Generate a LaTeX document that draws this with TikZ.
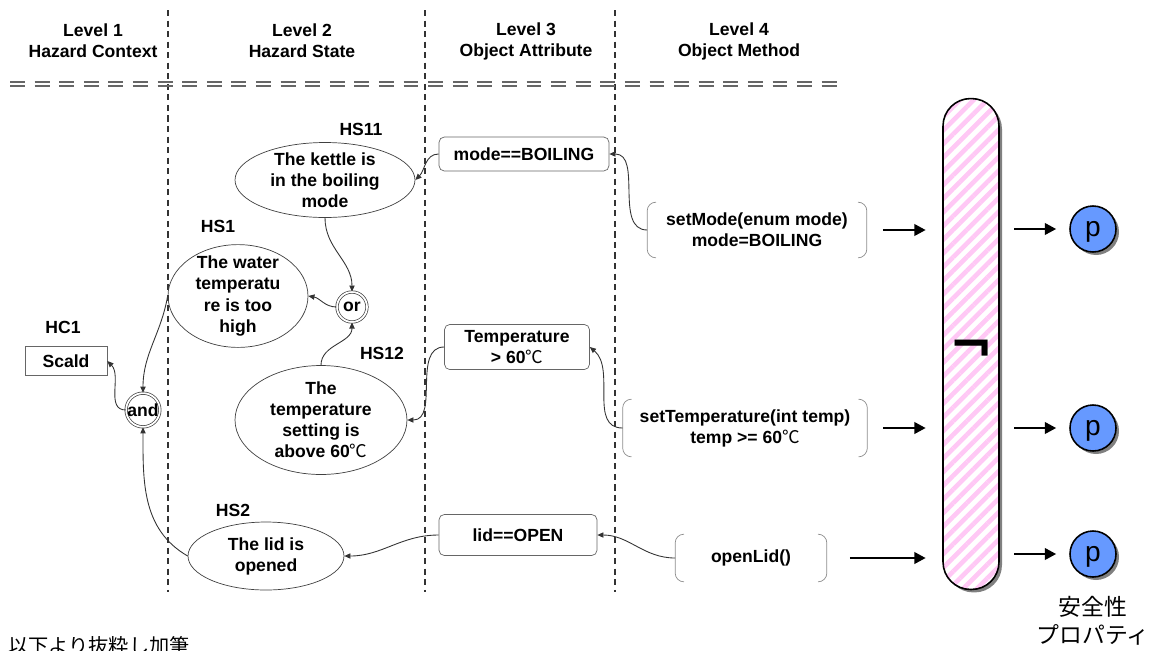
\documentclass[tikz,border=0pt]{standalone}
\usepackage{fontspec}
\setmainfont{Liberation Sans}
\newfontfamily\cjk{Noto Sans CJK JP}
\newfontfamily\symfont{DejaVu Sans}
\usetikzlibrary{shapes.geometric,arrows.meta,shadows,patterns.meta}

\definecolor{propblue}{RGB}{102,153,255}
\definecolor{stripe}{RGB}{255,200,245}
\newcommand{\tempunit}{{\cjk\mdseries ℃}}

\tikzset{
  every node/.style={font=\bfseries\fontsize{10}{12}\selectfont},
  hstate/.style={ellipse, draw=black!75, align=center, inner xsep=0pt, inner ysep=-2pt},
  gate/.style={circle, draw=black!75, double, double distance=1pt, inner sep=0pt, minimum size=0.6cm},
  attr/.style={draw=black!60, rounded corners=3pt, align=center},
  method/.style={align=center},
  bracket/.style={draw=black!45, rounded corners=5pt},
  link/.style={black!80, line width=0.5pt, -{Triangle[length=3.5pt,width=3pt]}},
  feed/.style={line width=1.5pt, -{Triangle[length=6.5pt,width=6.5pt]}},
  divider/.style={black!80, line width=0.7pt, dash pattern=on 3.5pt off 2.5pt},
  rule/.style={black!60, line width=0.6pt, dash pattern=on 8.5pt off 5.5pt},
  formula/.style={draw, line width=0.9pt, minimum width=1.12cm, minimum height=9.82cm,
    rounded corners=0.55cm,
    drop shadow={shadow xshift=0.06cm, shadow yshift=-0.06cm, fill=black!50, opacity=1},
    preaction={fill=white},
    pattern={Lines[angle=45,distance=5.5pt,line width=2.6pt]}, pattern color=stripe},
  prop/.style={circle, draw, fill=propblue, line width=0.9pt, minimum size=0.92cm, inner sep=0pt,
    text depth=0pt, font=\fontsize{16}{16}\selectfont,
    drop shadow={shadow xshift=0.06cm, shadow yshift=-0.06cm, fill=black!50, opacity=1}},
}

\begin{document}
\begin{tikzpicture}[x=0.02cm, y=0.02cm]
\useasboundingbox (0,0) rectangle (1153,-650);

% column headers and separators
\node[align=center] (lv1) at (93,-41) {Level 1\\Hazard Context};
\node[align=center] (lv2) at (302,-41) {Level 2\\Hazard State};
\node[align=center] (lv3) at (526,-41) {Level 3\\Object Attribute};
\node[align=center] (lv4) at (739,-41) {Level 4\\Object Method};
\foreach \x in {168,425,615}
  \draw[divider] (\x,-10) -- (\x,-592);
\foreach \y in {-82,-86}
  \draw[rule] (10,\y) -- (845,\y);

% level 1
\node (lhc1) at (63,-327) {HC1};
\node[draw=black!60, minimum width=1.64cm, minimum height=0.58cm] (scald) at (66,-361) {Scald};
\node[gate] (and) at (143,-410) {and};

% level 2
\node (lhs11) at (361,-129) {HS11};
\node[hstate, minimum width=3.6cm, minimum height=1.5cm] (hs11) at (325,-180) {The kettle is\\in the boiling\\mode};
\node (lhs1) at (218,-226) {HS1};
\node[hstate, minimum width=2.8cm, minimum height=2.04cm] (hs1) at (238,-296) {The water\\temperatu\\re is too\\high};
\node[gate] (or) at (352,-307) {or};
\node (lhs12) at (382,-353) {HS12};
\node[hstate, minimum width=3.44cm, minimum height=2.18cm] (hs12) at (321,-420) {The\\temperature\\setting is\\above 60\tempunit};
\node (lhs2) at (233,-510) {HS2};
\node[hstate, minimum width=3.12cm, minimum height=1.36cm] (hs2) at (266,-556) {The lid is\\opened};

% level 3
\node[attr, minimum width=3.4cm, minimum height=0.68cm] (boil) at (524,-154) {mode==BOILING};
\node[attr, minimum width=2.9cm, minimum height=0.84cm] (temp) at (517,-347) {Temperature\\> 60\tempunit};
\node[attr, minimum width=3.16cm, minimum height=0.82cm] (lid) at (518,-535) {lid==OPEN};

% level 4
\node[method, minimum width=4.38cm, minimum height=1.1cm] (setmode) at (757,-230) {setMode(enum mode)\\mode=BOILING};
\node[method, minimum width=4.88cm, minimum height=1.14cm] (settemp) at (745,-428) {setTemperature(int temp)\\temp >= 60\tempunit};
\node[method, minimum width=3.02cm, minimum height=0.94cm] (openlid) at (751,-558) {openLid()};
\foreach \m in {setmode,settemp,openlid}{
  \draw[bracket] ([xshift=0.16cm]\m.north west) -- (\m.north west) -- (\m.south west) -- ([xshift=0.16cm]\m.south west);
  \draw[bracket] ([xshift=-0.16cm]\m.north east) -- (\m.north east) -- (\m.south east) -- ([xshift=-0.16cm]\m.south east);
}

% hazard tree links
\draw[link] (boil.west) to[out=180,in=45] (hs11.east);
\draw[link] (setmode.west) to[out=180,in=0] (boil.east);
\draw[link] (hs11.south) to[out=-90,in=90] (or.north);
\draw[link] (hs12.north) to[out=90,in=-90] (or.south);
\draw[link] (or.west) to[out=180,in=-10] (hs1.east);
\draw[link] (temp.west) to[out=180,in=0] (hs12.east);
\draw[link] (settemp.west) to[out=180,in=-40] (temp.east);
\draw[link] (hs1.west) to[out=-100,in=90] (and.north);
\draw[link] (hs2.west) to[out=150,in=-90] (and.south);
\draw[link] (and.west) to[out=180,in=-45] (scald.east);
\draw[link] (lid.west) to[out=180,in=0] (hs2.east);
\draw[link] (openlid.west) to[out=180,in=0] (lid.east);

% monitor bar and properties
\node[formula] (ltl) at (971,-344) {};
\node[font=\symfont\bfseries\fontsize{30}{30}\selectfont, inner sep=0pt] (neg) at (972,-352) {¬};
\foreach \n/\y in {p1/-229,p2/-428,p3/-554}
  \node[prop] (\n) at (1093,\y) {p};
\draw[feed, shorten <=0.32cm, shorten >=0.3cm] (setmode.east) -- (ltl.west |- setmode.east);
\draw[feed, shorten <=0.32cm, shorten >=0.3cm] (settemp.east) -- (ltl.west |- settemp.east);
\draw[feed, shorten <=0.46cm, shorten >=0.3cm] (openlid.east) -- (ltl.west |- openlid.east);
\foreach \n in {p1,p2,p3}
  \draw[feed, shorten <=0.26cm, shorten >=0.26cm] (ltl.east |- \n) -- (\n.west);
\node[align=center, font=\cjk\fontsize{13}{16}\selectfont] (safety) at (1093,-621) {安全性\\プロパティ};

\node[anchor=north west, inner sep=0pt, font=\cjk\fontsize{11.5}{14}\selectfont] (src) at (8,-636) {以下より抜粋し加筆};
\end{tikzpicture}
\end{document}
